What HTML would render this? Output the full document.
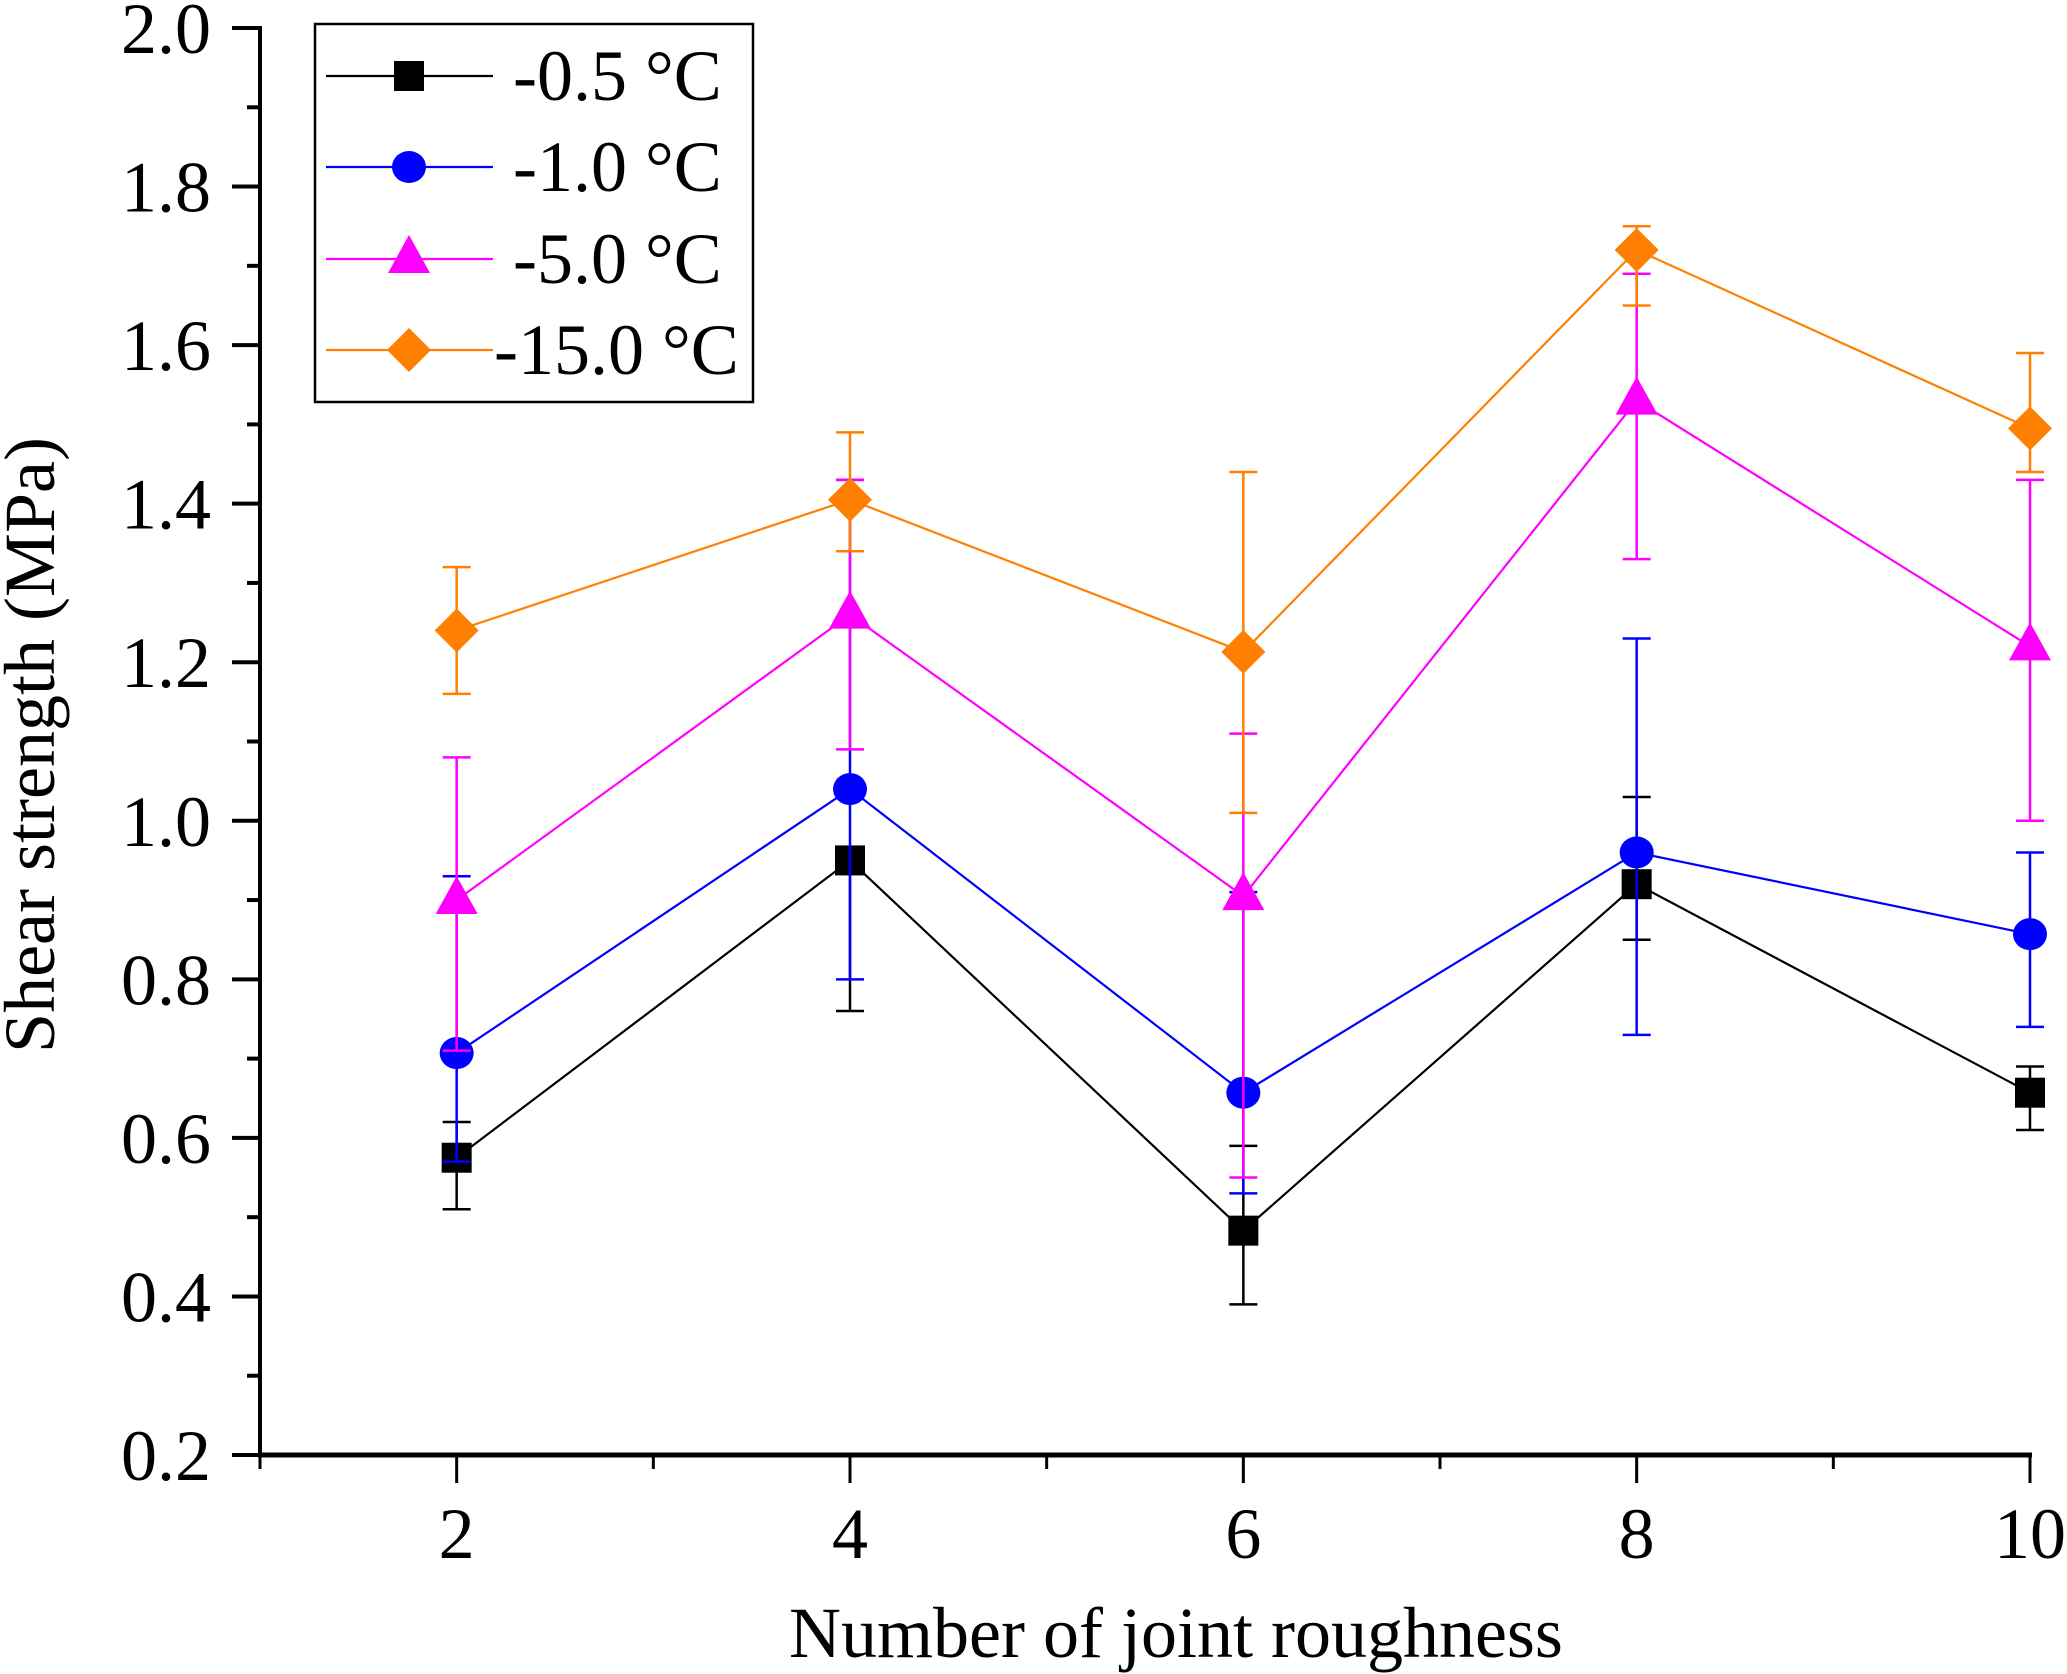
<!DOCTYPE html>
<html><head><meta charset="utf-8"><style>
html,body{margin:0;padding:0;background:#fff;}
svg{display:block;font-family:"Liberation Serif",serif;}
</style></head><body>
<svg id="chart" width="2067" height="1674" viewBox="0 0 2067 1674" xmlns="http://www.w3.org/2000/svg"></svg>
<script>
const categories = [2, 4, 6, 8, 10];
const seriesNames = ["-0.5 °C", "-1.0 °C", "-5.0 °C", "-15.0 °C"];
const seriesColors = ["#000000", "#0000ff", "#ff00ff", "#ff8000"];
const seriesMarkers = ["square", "circle", "triangle", "diamond"];
const valsA = [0.575, 0.95, 0.483, 0.92, 0.657];
const valsB = [0.707, 1.04, 0.657, 0.96, 0.857];
const valsC = [0.90, 1.26, 0.905, 1.53, 1.22];
const valsD = [1.24, 1.405, 1.213, 1.72, 1.495];
const loA = [0.51, 0.76, 0.39, 0.85, 0.61];
const hiA = [0.62, 0.95, 0.59, 1.03, 0.69];
const loB = [0.57, 0.80, 0.53, 0.73, 0.74];
const hiB = [0.93, 1.43, 0.91, 1.23, 0.96];
const loC = [0.71, 1.09, 0.55, 1.33, 1.00];
const hiC = [1.08, 1.43, 1.11, 1.69, 1.43];
const loD = [1.16, 1.34, 1.01, 1.65, 1.44];
const hiD = [1.32, 1.49, 1.44, 1.75, 1.59];
const yTicks = ["0.2","0.4","0.6","0.8","1.0","1.2","1.4","1.6","1.8","2.0"];
const xTicks = ["2","4","6","8","10"];

const NS = "http://www.w3.org/2000/svg";
const svg = document.getElementById("chart");
const X0 = 260, X1 = 2030, Y0 = 1455, Y1 = 28;
const xMin = 1, xMax = 10, yMin = 0.2, yMax = 2.0;
function xs(v){ return X0 + (v - xMin) / (xMax - xMin) * (X1 - X0); }
function ys(v){ return Y0 - (v - yMin) / (yMax - yMin) * (Y0 - Y1); }
function mk(tag, attrs, parent){
  const e = document.createElementNS(NS, tag);
  for (const k in attrs) e.setAttribute(k, attrs[k]);
  (parent || svg).appendChild(e);
  return e;
}
function marker(type, cx, cy, color, g){
  let e;
  if (type === "square") e = mk("rect", {x: cx-15, y: cy-15, width: 30, height: 30, fill: color}, g);
  else if (type === "circle") e = mk("ellipse", {cx: cx, cy: cy, rx: 17, ry: 16, fill: color}, g);
  else if (type === "triangle") e = mk("polygon", {points: `${cx},${cy-24} ${cx+21},${cy+14} ${cx-21},${cy+14}`, fill: color}, g);
  else e = mk("polygon", {points: `${cx},${cy-22} ${cx+22},${cy} ${cx},${cy+22} ${cx-22},${cy}`, fill: color}, g);
  return e;
}

const ax = mk("g", {});


const yl = mk("line", {x1: X0, y1: Y1 - 2, x2: X0, y2: Y0 + 2, stroke: "#000", "stroke-width": 4}, ax);


const xl = mk("line", {x1: X0 - 2, y1: Y0, x2: X1 + 2, y2: Y0, stroke: "#000", "stroke-width": 5}, ax);



yTicks.forEach((t, i) => {
  const v = parseFloat(t);
  const y = ys(v);
  const tk = mk("line", {x1: X0 - 28, y1: y, x2: X0, y2: y, stroke: "#000", "stroke-width": 4}, ax);
  
  
  if (i < yTicks.length - 1) {
    const ym = ys(v + 0.1);
    const mt = mk("line", {x1: X0 - 13, y1: ym, x2: X0, y2: ym, stroke: "#000", "stroke-width": 4}, ax);
    
    
  }
  const tx = mk("text", {x: 211, y: y + 25, "text-anchor": "end", "font-size": 72}, ax);
  tx.textContent = t;
  
  
});
for (let v = 1; v <= 10; v++) {
  const x = xs(v);
  const major = v % 2 === 0;
  const tk = mk("line", {x1: x, y1: Y0, x2: x, y2: Y0 + (major ? 28 : 14), stroke: "#000", "stroke-width": 3}, ax);
  
  
}
xTicks.forEach(t => {
  const tx = mk("text", {x: xs(parseFloat(t)), y: 1558, "text-anchor": "middle", "font-size": 72}, ax);
  tx.textContent = t;
  
  
});
const xt = mk("text", {x: 1176, y: 1657, "text-anchor": "middle", "font-size": 72}, ax);
xt.textContent = "Number of joint roughness";


const yt = mk("text", {x: 0, y: 0, "text-anchor": "middle", "font-size": 72, transform: "translate(54,745) rotate(-90)"}, ax);
yt.textContent = "Shear strength (MPa)";



const allVals = [valsA, valsB, valsC, valsD];
const allLo = [loA, loB, loC, loD];
const allHi = [hiA, hiB, hiC, hiD];
allVals.forEach((vals, s) => {
  const color = seriesColors[s];
  const g = mk("g", {});
  
  
  categories.forEach((c, i) => {
    const x = xs(c);
    const e = mk("path", {d: `M${x},${ys(allLo[s][i])}V${ys(allHi[s][i])}M${x-14},${ys(allLo[s][i])}h28M${x-14},${ys(allHi[s][i])}h28`, stroke: color, "stroke-width": 2.5, fill: "none"}, g);
    
    
  });
  const pts = categories.map((c, i) => xs(c) + "," + ys(vals[i])).join(" ");
  const pl = mk("polyline", {points: pts, stroke: color, "stroke-width": 2.2, fill: "none"}, g);
  
  
  categories.forEach((c, i) => {
    const m = marker(seriesMarkers[s], xs(c), ys(vals[i]), color, g);
    
    
  });
});

const lg = mk("g", {});


const lb = mk("rect", {x: 315, y: 24, width: 438, height: 378, fill: "#fff", stroke: "#000", "stroke-width": 2.5}, lg);


const rowY = [76, 167, 259, 350];
seriesNames.forEach((n, s) => {
  const eg = mk("g", {}, lg);
  
  
  const y = rowY[s];
  mk("line", {x1: 326, y1: y, x2: 493, y2: y, stroke: seriesColors[s], "stroke-width": 2.2}, eg);
  marker(seriesMarkers[s], 409, y, seriesColors[s], eg);
  const t = mk("text", {x: s === 3 ? 494 : 513, y: y + 24, "font-size": 72}, eg);
  t.textContent = n;
});
</script>
</body></html>
